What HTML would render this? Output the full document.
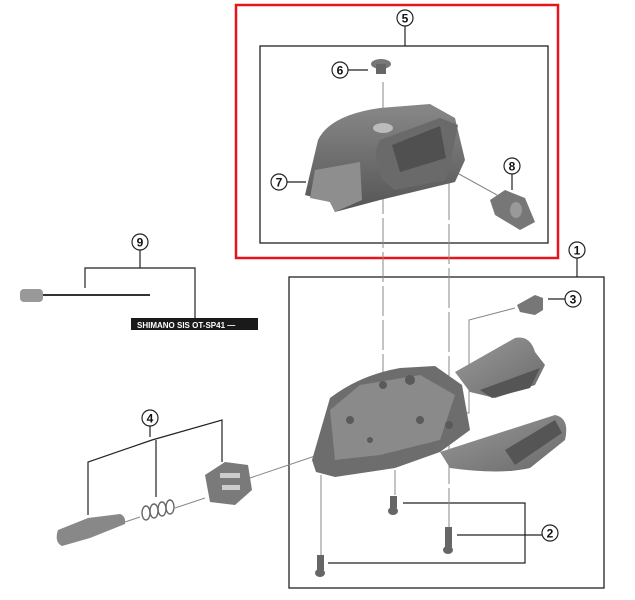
<!DOCTYPE html>
<html><head><style>body{margin:0;background:#fff}svg{display:block}text{font-family:"Liberation Sans",sans-serif;font-weight:bold}</style></head>
<body>
<svg width="635" height="600" viewBox="0 0 635 600" xmlns="http://www.w3.org/2000/svg">
<defs>
<linearGradient id="g1" x1="0" y1="0" x2="0" y2="1"><stop offset="0" stop-color="#888"/><stop offset="1" stop-color="#555"/></linearGradient>
<linearGradient id="g2" x1="0" y1="0" x2="1" y2="1"><stop offset="0" stop-color="#9a9a9a"/><stop offset="1" stop-color="#6a6a6a"/></linearGradient>
</defs>
<rect x="236" y="5" width="322" height="253" fill="none" stroke="#e8141c" stroke-width="2.5"/>
<rect x="260" y="46" width="288" height="197" fill="none" stroke="#222" stroke-width="1.3"/>
<g fill="none" stroke="#222" stroke-width="1.2">
<line x1="405" y1="26" x2="405" y2="46"/>
<line x1="348" y1="70" x2="368" y2="70"/>
<line x1="287" y1="182" x2="306" y2="182"/>
<line x1="512" y1="174" x2="512" y2="190"/>
<line x1="577" y1="258" x2="577" y2="277"/>
<line x1="548" y1="299" x2="565" y2="299"/>
<line x1="140" y1="250" x2="140" y2="268"/>
<polyline points="85,288 85,268 195,268 195,318"/>
<line x1="150" y1="426" x2="150" y2="437"/>
<polyline points="88,515 88,462 152,440 222,420 222,462"/>
<line x1="156" y1="440" x2="156" y2="497"/>
<polyline points="403,503 525,503 525,563 328,563"/>
<line x1="457" y1="535" x2="542" y2="535"/>
</g>
<rect x="289" y="277" width="315" height="311" fill="none" stroke="#222" stroke-width="1.3"/>
<g stroke="#888" stroke-width="1" fill="none">
<line x1="383" y1="82" x2="383" y2="385" stroke-dasharray="30,4"/>
<line x1="449" y1="180" x2="449" y2="530" stroke-dasharray="40,4"/>
<line x1="410" y1="147" x2="497" y2="195"/>
<polyline points="455,413 469,413 469,320 515,308"/>
<line x1="321" y1="475" x2="321" y2="555"/>
<line x1="395" y1="470" x2="395" y2="495"/>
<line x1="125" y1="522" x2="140" y2="517"/>
<line x1="175" y1="508" x2="205" y2="498"/>
<line x1="250" y1="478" x2="318" y2="455"/>
</g>
<path d="M305,195 L318,140 Q330,115 380,108 L430,104 L455,118 L465,160 L455,182 L430,188 L380,200 L335,212 L330,202 Z" fill="url(#g1)"/>
<path d="M315,170 L360,162 L362,200 L335,212 L330,202 L310,198 Z" fill="#8e8e8e"/>
<path d="M375,152 L380,140 L440,118 L458,125 L450,165 L445,180 L395,190 L382,180 Z" fill="#6a6a6a"/>
<path d="M392,145 L440,126 L446,158 L400,172 Z" fill="#505050"/>
<ellipse cx="383" cy="128" rx="10" ry="5" fill="#bbb"/>
<ellipse cx="381" cy="64" rx="10" ry="5" fill="#777"/><rect x="376" y="64" width="10" height="10" fill="#666"/>
<path d="M490,200 L505,190 L525,198 L535,222 L520,230 L495,215 Z" fill="#777"/>
<ellipse cx="516" cy="210" rx="6" ry="8" fill="#999"/>
<!-- main body -->
<path d="M455,372 L515,338 Q530,335 535,352 L545,365 L535,385 L495,398 L470,392 Z" fill="url(#g2)"/>
<path d="M480,390 L540,368 L530,388 L492,398 Z" fill="#555"/>
<path d="M440,452 L555,415 Q570,418 565,440 L530,468 Q500,475 450,468 Z" fill="url(#g2)"/>
<path d="M505,450 L555,420 L562,433 L515,465 Z" fill="#555"/>
<path d="M312,460 L330,398 Q360,375 400,368 L435,366 L462,385 L470,430 L440,452 L395,468 L335,477 L316,472 Z" fill="#6d6d6d"/>
<path d="M330,410 L360,385 L420,375 L455,395 L440,440 L380,455 L335,460 Z" fill="#8a8a8a"/>
<g fill="#5a5a5a"><circle cx="383" cy="385" r="4"/><circle cx="410" cy="380" r="5"/><circle cx="350" cy="420" r="4"/><circle cx="420" cy="420" r="4"/><circle cx="370" cy="440" r="3"/><circle cx="449" cy="425" r="4"/></g>
<path d="M517,305 L535,295 L543,298 L543,310 L535,315 L520,312 Z" fill="#777"/>
<g fill="#666"><rect x="390" y="496" width="7" height="12"/><ellipse cx="393" cy="511" rx="5" ry="4"/>
<rect x="445" y="527" width="7" height="20"/><ellipse cx="448" cy="550" rx="5" ry="4"/>
<rect x="317" y="555" width="7" height="15"/><ellipse cx="320" cy="573" rx="5" ry="4"/></g>
<rect x="20" y="289" width="23" height="13" rx="4" fill="#999"/>
<line x1="43" y1="295" x2="150" y2="295" stroke="#333" stroke-width="2"/>
<rect x="131" y="318" width="127" height="12" fill="#1a1a1a"/>
<text x="137" y="328" font-size="8" fill="#fff" font-weight="normal">SHIMANO SIS  OT-SP41 ―</text>
<path d="M58,530 L88,518 L120,514 Q126,516 125,524 L90,538 L62,546 Q54,542 58,530 Z" fill="#888"/>
<g fill="none" stroke="#666" stroke-width="1.4">
<ellipse cx="146" cy="513" rx="4" ry="7"/><ellipse cx="154" cy="511" rx="4" ry="7"/><ellipse cx="162" cy="509" rx="4" ry="7"/><ellipse cx="170" cy="507" rx="4" ry="7"/></g>
<path d="M205,475 L225,462 L248,465 L252,490 L235,505 L210,502 Z" fill="#7a7a7a"/>
<rect x="220" y="473" width="20" height="5" fill="#ccc"/><rect x="222" y="485" width="18" height="5" fill="#ccc"/>
<g fill="#fff" stroke="#222" stroke-width="1.2">
<circle cx="405" cy="18" r="8"/><circle cx="340" cy="70" r="8"/><circle cx="279" cy="182" r="8"/><circle cx="512" cy="166" r="8"/>
<circle cx="577" cy="250" r="8"/><circle cx="573" cy="299" r="8"/><circle cx="550" cy="533" r="8"/><circle cx="140" cy="242" r="8"/><circle cx="150" cy="418" r="8"/></g>
<g font-size="12" text-anchor="middle" fill="#111">
<text x="405" y="22.5">5</text><text x="340" y="74.5">6</text><text x="279" y="186.5">7</text><text x="512" y="170.5">8</text>
<text x="577" y="254.5">1</text><text x="573" y="303.5">3</text><text x="550" y="537.5">2</text><text x="140" y="246.5">9</text><text x="150" y="422.5">4</text></g>
</svg>
</body></html>
